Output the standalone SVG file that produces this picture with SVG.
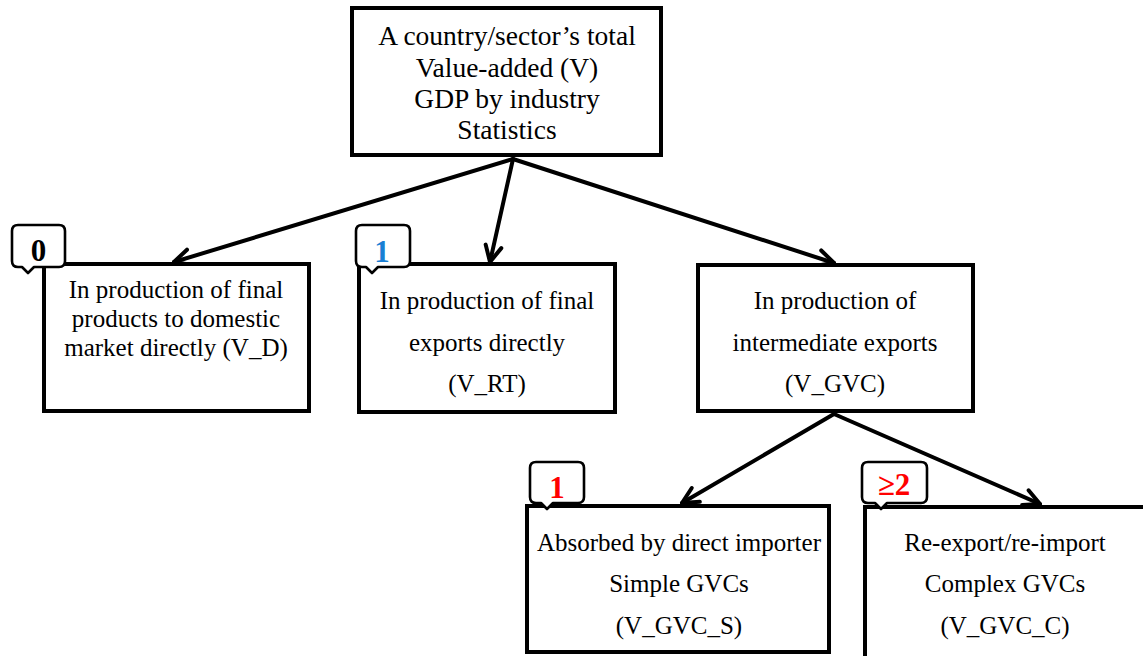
<svg xmlns="http://www.w3.org/2000/svg" width="1143" height="656" viewBox="0 0 1143 656">
<style>
.box{fill:#fff;stroke:#000;stroke-width:4}
.t{font-family:"Liberation Serif","Times New Roman",serif;font-size:25px;fill:#000;text-anchor:middle}
.tt{font-size:27.5px}
.badge{fill:#fff;stroke:#000;stroke-width:2.6;stroke-linejoin:round}
.bn{font-family:"Liberation Serif","Times New Roman",serif;font-weight:bold;font-size:31px;text-anchor:middle}
.conn line{stroke:#000;stroke-width:4;stroke-linecap:round}
</style>
<defs>
<marker id="arr" viewBox="0 0 22 22" refX="19" refY="11" markerWidth="22" markerHeight="22" markerUnits="userSpaceOnUse" orient="auto">
<path d="M3,3 L19,11 L3,19" fill="none" stroke="#000" stroke-width="4" stroke-linecap="round" stroke-linejoin="round"/>
</marker>
</defs>
<rect width="1143" height="656" fill="#fff"/>
<g id="connectors" class="conn">
<line x1="513" y1="159" x2="174" y2="262" marker-end="url(#arr)"/>
<line x1="513" y1="159" x2="490" y2="262" marker-end="url(#arr)"/>
<line x1="513" y1="159" x2="834" y2="263" marker-end="url(#arr)"/>
<line x1="834" y1="414" x2="682" y2="503" marker-end="url(#arr)"/>
<line x1="834" y1="414" x2="1040" y2="504" marker-end="url(#arr)"/>
</g>
<g id="node-total">
<rect class="box" x="352" y="8" width="309" height="147"/>
<text class="t tt" x="507" y="45">A country/sector’s total</text>
<text class="t tt" x="507" y="77">Value-added (V)</text>
<text class="t tt" x="507" y="108">GDP by industry</text>
<text class="t tt" x="507" y="139">Statistics</text>
</g>
<g id="node-vd">
<rect class="box" x="44" y="264" width="265" height="147"/>
<text class="t" x="176" y="298">In production of final</text>
<text class="t" x="176" y="327">products to domestic</text>
<text class="t" x="176" y="356">market directly (V_D)</text>
</g>
<g id="badge-0">
<path class="badge" transform="translate(12,225)" d="M6,0 H47 Q53,0 53,6 V36 Q53,42 47,42 H22 L16,48 L10,42 H6 Q0,42 0,36 V6 Q0,0 6,0 Z"/>
<text class="bn" x="38.5" y="261" fill="#000">0</text>
</g>
<g id="node-vrt">
<rect class="box" x="359" y="264" width="256" height="148"/>
<text class="t" x="487" y="309">In production of final</text>
<text class="t" x="487" y="351">exports directly</text>
<text class="t" x="487" y="392">(V_RT)</text>
</g>
<g id="badge-1">
<path class="badge" transform="translate(356,225)" d="M6,0 H48 Q54,0 54,6 V36 Q54,42 48,42 H22 L16,48 L10,42 H6 Q0,42 0,36 V6 Q0,0 6,0 Z"/>
<text class="bn" x="382" y="262" fill="#1a7fd4">1</text>
</g>
<g id="node-vgvc">
<rect class="box" x="698" y="265" width="275" height="146"/>
<text class="t" x="835" y="309">In production of</text>
<text class="t" x="835" y="351">intermediate exports</text>
<text class="t" x="835" y="392">(V_GVC)</text>
</g>
<g id="node-vgvcs">
<rect class="box" x="527" y="506" width="302" height="146"/>
<text class="t" x="679" y="551">Absorbed by direct importer</text>
<text class="t" x="679" y="592">Simple GVCs</text>
<text class="t" x="679" y="634">(V_GVC_S)</text>
</g>
<g id="badge-1r">
<path class="badge" transform="translate(530,462)" d="M6,0 H48 Q54,0 54,6 V35 Q54,41 48,41 H23 L17,47 L11,41 H6 Q0,41 0,35 V6 Q0,0 6,0 Z"/>
<text class="bn" x="557" y="498" fill="#ff0000">1</text>
</g>
<g id="node-vgvcc">
<rect class="box" x="865" y="507" width="400" height="200"/>
<text class="t" x="1005" y="551">Re-export/re-import</text>
<text class="t" x="1005" y="592">Complex GVCs</text>
<text class="t" x="1005" y="634">(V_GVC_C)</text>
</g>
<g id="badge-2">
<path class="badge" transform="translate(862,462)" d="M6,0 H59 Q65,0 65,6 V35 Q65,41 59,41 H25 L19,47 L13,41 H6 Q0,41 0,35 V6 Q0,0 6,0 Z"/>
<text class="bn" x="894" y="495" fill="#ff0000">≥2</text>
</g>
</svg>
